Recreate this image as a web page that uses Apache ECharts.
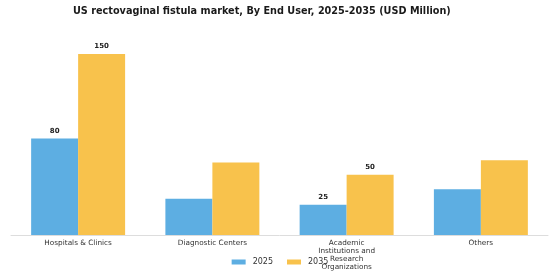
<!DOCTYPE html>
<html>
<head>
<meta charset="utf-8">
<script src="https://cdn.jsdelivr.net/npm/echarts@6/dist/echarts.min.js"></script>
<style>
  html, body { margin: 0; padding: 0; background: #fff; }
  #chart { width: 560px; height: 280px; }
</style>
</head>
<body>
<div id="chart"></div>
<script>
var categories = ['Hospitals & Clinics', 'Diagnostic Centers', 'Academic\nInstitutions and\nResearch\nOrganizations', 'Others']
var values2025 = [80, 30, 25, 38]
var values2035 = [150, 60, 50, 62]
// which bars carry a value label
var labeled2025 = [true, false, true, false]
var labeled2035 = [true, false, true, false]

function withLabels (values, flags) {
  return values.map(function (v, i) {
    return { value: v, label: { show: flags[i] } }
  })
}

var myChart = echarts.init(document.getElementById('chart'))
var labelStyle = {
  position: 'top',
  distance: 4,
  fontFamily: 'DejaVu Sans',
  fontSize: 7,
  fontWeight: 'bold',
  color: '#222'
}
var option = {
  animation: false,
  title: {
    text: 'US rectovaginal fistula market, By End User, 2025-2035 (USD Million)',
    left: 68,
    top: 1,
    textStyle: { fontFamily: 'DejaVu Sans', fontSize: 9.7, fontWeight: 'bold', color: '#1a1a1a' }
  },
  legend: {
    data: ['2025', '2035'],
    bottom: 9,
    left: 'center',
    itemWidth: 14,
    itemHeight: 5,
    itemGap: 14,
    icon: 'rect',
    textStyle: { fontFamily: 'DejaVu Sans', fontSize: 8, color: '#333', padding: [0, 0, 0, 2] }
  },
  grid: { left: 11, right: 12, top: 54, bottom: 45 },
  xAxis: {
    type: 'category',
    data: categories,
    axisTick: { show: false },
    axisLine: { lineStyle: { color: '#ddd' } },
    axisLabel: { fontFamily: 'DejaVu Sans', fontSize: 7.3, color: '#333', margin: 4, lineHeight: 8, interval: 0 }
  },
  yAxis: {
    type: 'value',
    min: 0,
    max: 150,
    show: false,
    splitLine: { show: false }
  },
  series: [{
    name: '2025',
    type: 'bar',
    data: withLabels(values2025, labeled2025),
    barGap: '0%',
    barCategoryGap: '30%',
    itemStyle: { color: '#5DAEE2' },
    label: labelStyle
  }, {
    name: '2035',
    type: 'bar',
    data: withLabels(values2035, labeled2035),
    itemStyle: { color: '#F8C24C' },
    label: labelStyle
  }]
}
myChart.setOption(option)
</script>
</body>
</html>
